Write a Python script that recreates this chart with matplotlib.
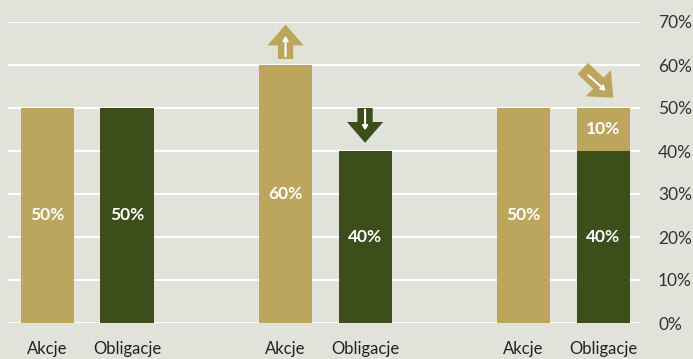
import numpy as np
import matplotlib.pyplot as plt

# data
groups = [0, 1, 2]
akcje = [50, 60, 50]
oblig_base = [50, 40, 40]
oblig_extra = [0, 0, 10]
cat_labels = ["Akcje", "Obligacje"]
yticks = [0, 10, 20, 30, 40, 50, 60, 70]

gold = "#bca55d"
green = "#3c4e19"
bg = "#e1e3db"

plt.rcParams["font.family"] = ["Lato", "DejaVu Sans"]

fig = plt.figure(figsize=(6.93, 3.59), dpi=100, facecolor=bg)
ax = fig.add_axes([8 / 693, 36 / 359, 632 / 693, 301 / 359], facecolor=bg)

off = 0.167
w = 0.223
x = np.array(groups, dtype=float)

ax.bar(x - off, akcje, w, color=gold, zorder=3)
ax.bar(x + off, oblig_base, w, color=green, zorder=3)
ax.bar(x + off, oblig_extra, w, bottom=oblig_base, color=gold, zorder=3)

# value labels in the middle of each segment
for i in range(3):
    ax.text(x[i] - off, akcje[i] / 2, f"{akcje[i]}%", ha="center", va="center",
            color="white", fontsize=12.5, fontweight="bold", zorder=4)
    ax.text(x[i] + off, oblig_base[i] / 2, f"{oblig_base[i]}%", ha="center", va="center",
            color="white", fontsize=12.5, fontweight="bold", zorder=4)
    if oblig_extra[i]:
        ax.text(x[i] + off, oblig_base[i] + oblig_extra[i] / 2, f"{oblig_extra[i]}%",
                ha="center", va="center", color="white", fontsize=12.5, fontweight="bold", zorder=4)


# arrows above bars
def big_arrow(x0, y0, x1, y1, color):
    ax.annotate("", xy=(x1, y1), xytext=(x0, y0), zorder=5, annotation_clip=False,
                arrowprops=dict(arrowstyle="simple,head_length=0.75,head_width=1.3,tail_width=0.55",
                                mutation_scale=20, fc=color, ec="none", shrinkA=0, shrinkB=0))


def thin_arrow(x0, y0, x1, y1):
    ax.annotate("", xy=(x1, y1), xytext=(x0, y0), zorder=6, annotation_clip=False,
                arrowprops=dict(arrowstyle="->,head_length=0.25,head_width=0.15",
                                color="white", lw=1.5, shrinkA=0, shrinkB=0))


big_arrow(1 - off, 61.4, 1 - off, 69.4, gold)
thin_arrow(1 - off, 62.0, 1 - off, 66.8)
big_arrow(1 + off, 50.0, 1 + off, 41.9, green)
thin_arrow(1 + off, 49.6, 1 + off, 44.8)
big_arrow(2.082, 59.2, 2.21, 52.4, gold)
thin_arrow(2.105, 57.6, 2.178, 54.0)

ax.set_xlim(-0.333, 2.322)
ax.set_ylim(0, 70)
ax.set_yticks(yticks)
ax.set_yticklabels([f"{t}%" for t in yticks])
ax.yaxis.tick_right()
ax.grid(axis="y", color="white", lw=1.5, zorder=1)
ax.set_axisbelow(True)

pos = np.concatenate([[g - off, g + off] for g in groups])
ax.set_xticks(pos)
ax.set_xticklabels(cat_labels * 3)
ax.tick_params(axis="x", length=0, pad=13, labelsize=12, labelcolor="#222222")
ax.tick_params(axis="y", length=0, pad=13, labelsize=12.5, labelcolor="#333333")
for s in ax.spines.values():
    s.set_visible(False)

fig.savefig("out.png", dpi=100, facecolor=bg)
